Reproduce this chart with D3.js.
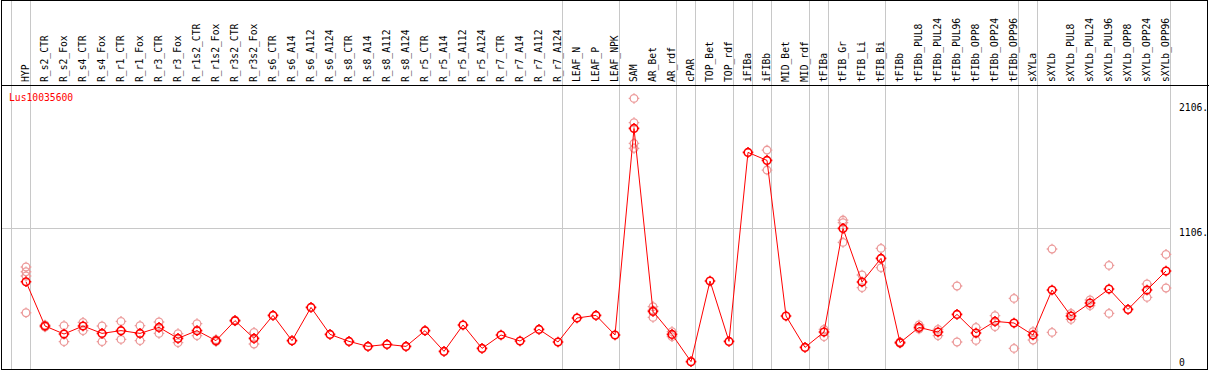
<!DOCTYPE html>
<html>
<head>
<meta charset="utf-8">
<script src="https://cdn.jsdelivr.net/npm/d3@7"></script>
<style>
  body { margin: 0; background: #fff; }
  text { font-family: "DejaVu Sans Mono", monospace; font-size: 9.7px; }
</style>
</head>
<body>
<script>
// data
var samples = ["HYP","R_s2_CTR","R_s2_Fox","R_s4_CTR","R_s4_Fox","R_r1_CTR","R_r1_Fox","R_r3_CTR","R_r3_Fox",
  "R_r1s2_CTR","R_r1s2_Fox","R_r3s2_CTR","R_r3s2_Fox","R_s6_CTR","R_s6_A14","R_s6_A112","R_s6_A124",
  "R_s8_CTR","R_s8_A14","R_s8_A112","R_s8_A124","R_r5_CTR","R_r5_A14","R_r5_A112","R_r5_A124",
  "R_r7_CTR","R_r7_A14","R_r7_A112","R_r7_A124","LEAF_N","LEAF_P","LEAF_NPK","SAM","AR_Bet","AR_rdf",
  "cPAR","TOP_Bet","TOP_rdf","iFIBa","iFIBb","MID_Bet","MID_rdf","tFIBa","tFIB_Gr","tFIB_Li","tFIB_Bi",
  "tFIBb","tFIBb_PUL8","tFIBb_PUL24","tFIBb_PUL96","tFIBb_OPP8","tFIBb_OPP24","tFIBb_OPP96",
  "sXYLa","sXYLb","sXYLb_PUL8","sXYLb_PUL24","sXYLb_PUL96","sXYLb_OPP8","sXYLb_OPP24","sXYLb_OPP96"];

var means = [678,324,260,324,265,287,265,313,225,287,207,367,225,409,207,473,257,201,161,177,161,
  287,121,332,145,252,204,297,196,388,409,252,1905,441,257,39,684,201,1713,1649,404,153,276,1105,676,865,
  191,313,276,417,268,361,348,252,612,404,508,620,457,612,764];

var replicates = [[796,758,724,430],[332,316],[327,199],[353,287],[324,199],[361,217],[327,207],[356,265],
  [263,191],[343,247],[215,199],[370,364],[273,180],[],[],[],[],[],[],[],[],[],[],[],[],[],[],[],[],[],[],[],
  [2145,1951,1785,1745],[479,393,450],[279,239],[],[],[],[],[1732,1572],[],[],[297,239],[1172,1151,993],
  [732,631],[945,791],[196,186],[332,300],[297,247],[644,196],[313,209],[407,319],[545,145],[279,212],
  [940,273],[425,377],[532,487],[809,425],[],[660,553],[897,628]];

var groupEnds = [-1,0,28,31,34,35,37,38,39,41,42,45,52,53,60];
var tickVals = [0,1106,2106];
var gridVals = [1106];
var geneName = "Lus10035600";

//positioning/sizing
var W = 1209, H = 370, headerY = 85, rightX = 1170;

var x = d3.scaleLinear().domain([0, samples.length - 1]).range([26, 1166]);
var y = d3.scaleLinear().domain([0, 2106]).range([366.5, 103.3]);

var svg = d3.select("body").append("svg")
    .attr("width", W)
    .attr("height", H);

// grid
svg.append("g").selectAll("line")
   .data(groupEnds)
   .enter().append("line")
   .attr("x1", d => Math.floor(x(d) + 4.5) + 0.5)
   .attr("x2", d => Math.floor(x(d) + 4.5) + 0.5)
   .attr("y1", 0).attr("y2", H)
   .attr("stroke", "#c8c8c8").attr("shape-rendering", "crispEdges");

svg.append("g").selectAll("line")
   .data(gridVals)
   .enter().append("line")
   .attr("x1", 1).attr("x2", rightX)
   .attr("y1", d => Math.round(y(d)) + 0.5)
   .attr("y2", d => Math.round(y(d)) + 0.5)
   .attr("stroke", "#c8c8c8").attr("shape-rendering", "crispEdges");

// frame
svg.append("rect")
   .attr("x", 1.5).attr("y", 0.5)
   .attr("width", 1206).attr("height", 368.5)
   .attr("fill", "none").attr("stroke", "#000").attr("shape-rendering", "crispEdges");
svg.append("line")
   .attr("x1", 1).attr("x2", W).attr("y1", headerY + 0.5).attr("y2", headerY + 0.5)
   .attr("stroke", "#000").attr("shape-rendering", "crispEdges");

// column labels
svg.append("g").selectAll("text")
   .data(samples)
   .enter().append("text")
   .attr("transform", (d, i) => "translate(" + (x(i) + 2.5) + "," + 82 + ") rotate(-90)")
   .text(d => d);

// y labels
svg.append("g").selectAll("text")
   .data(tickVals)
   .enter().append("text")
   .attr("x", 1179)
   .attr("y", d => Math.min(y(d) + 8, 366))
   .text(d => d === 0 ? "0" : d + ".");

svg.append("text")
   .attr("x", 9).attr("y", 101)
   .attr("fill", "#f00")
   .text(geneName);

// circle symbol with little ticks
function marker(r) {
  var t = r + 1.5;
  return "M" + (-r) + ",0A" + r + "," + r + " 0 1,0 " + r + ",0A" + r + "," + r + " 0 1,0 " + (-r) + ",0" +
    "M0," + (-r) + "V" + (-t) + "M0," + r + "V" + t + "M" + (-r) + ",0H" + (-t) + "M" + r + ",0H" + t;
}

// replicates
var repPts = [];
replicates.forEach(function(arr, i) {
  arr.forEach(function(v) { repPts.push({i: i, v: v}); });
});

svg.append("g").selectAll("path")
   .data(repPts)
   .enter().append("path")
   .attr("d", marker(3.8))
   .attr("transform", d => "translate(" + x(d.i) + "," + y(d.v) + ")")
   .attr("fill", "none")
   .attr("stroke", "#ec9a9a")
   .attr("stroke-width", 1.3);

// mean line
var line = d3.line()
    .x((d, i) => x(i))
    .y(d => y(d));

svg.append("path")
   .datum(means)
   .attr("d", line)
   .attr("fill", "none")
   .attr("stroke", "#f00")
   .attr("stroke-width", 1);

svg.append("g").selectAll("path")
   .data(means)
   .enter().append("path")
   .attr("d", marker(3.8))
   .attr("transform", (d, i) => "translate(" + x(i) + "," + y(d) + ")")
   .attr("fill", "none")
   .attr("stroke", "#f00")
   .attr("stroke-width", 1.6);
</script>
</body>
</html>
